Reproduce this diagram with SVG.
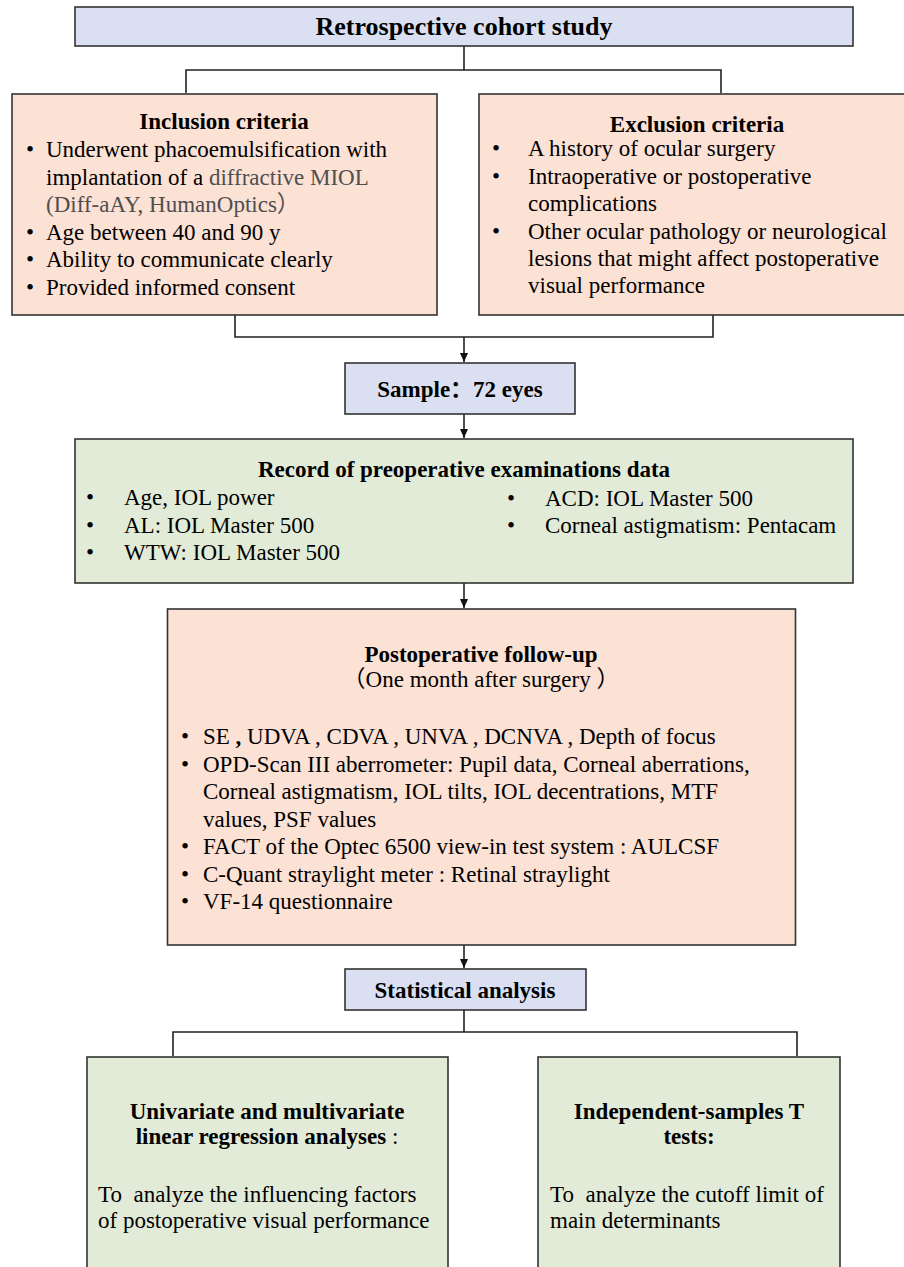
<svg xmlns="http://www.w3.org/2000/svg" width="904" height="1267" viewBox="0 0 904 1267">
<defs>
<style>
text{font-family:"Liberation Serif","Times New Roman","Noto Sans CJK SC",serif;font-size:23px;fill:#000}
.b{font-weight:bold}
.c{text-anchor:middle}
.g{fill:#4f4f4f}
.blue{fill:#DAE0F2;stroke:#333;stroke-width:1.6}
.pink{fill:#FCE1D5;stroke:#333;stroke-width:1.6}
.green{fill:#E2EBD8;stroke:#333;stroke-width:1.6}
.ln{fill:none;stroke:#222;stroke-width:1.6}
</style>
<marker id="ah" markerWidth="10" markerHeight="10" refX="9" refY="5" orient="auto" markerUnits="userSpaceOnUse">
<path d="M0,1 L9,5 L0,9 Z" fill="#111"/>
</marker>
</defs>

<g id="connectors">
<path class="ln" d="M464,46 V70 M186,93 V70 H721 V93"/>
<path class="ln" d="M235,315 V337 H713 V315"/>
<path class="ln" d="M464,337 V362" marker-end="url(#ah)"/>
<path class="ln" d="M464,414 V438" marker-end="url(#ah)"/>
<path class="ln" d="M464,583 V608" marker-end="url(#ah)"/>
<path class="ln" d="M464,945 V968" marker-end="url(#ah)"/>
<path class="ln" d="M464,1010 V1032 M173,1056 V1032 H797 V1056"/>
</g>

<g id="n-top">
<rect class="blue" x="75" y="7" width="778" height="39"/>
<text class="b c" x="464" y="35" style="font-size:26px">Retrospective cohort study</text>
</g>

<g id="n-inclusion">
<rect class="pink" x="12" y="94" width="425" height="221"/>
<text class="b c" x="224" y="129">Inclusion criteria</text>
<text x="26" y="157">•</text><text x="46" y="157">Underwent phacoemulsification with</text>
<text x="46" y="184.5">implantation of a <tspan class="g">diffractive MIOL</tspan></text>
<text x="46" y="212" class="g">(Diff-aAY, HumanOptics）</text>
<text x="26" y="239.5">•</text><text x="46" y="239.5">Age between 40 and 90 y</text>
<text x="26" y="267">•</text><text x="46" y="267">Ability to communicate clearly</text>
<text x="26" y="294.5">•</text><text x="46" y="294.5">Provided informed consent</text>
</g>

<g id="n-exclusion">
<rect class="pink" x="479" y="94" width="436" height="221"/>
<text class="b c" x="697" y="131.5">Exclusion criteria</text>
<text x="492" y="156">•</text><text x="528" y="156">A history of ocular surgery</text>
<text x="492" y="183.5">•</text><text x="528" y="183.5">Intraoperative or postoperative</text>
<text x="528" y="211">complications</text>
<text x="492" y="238.5">•</text><text x="528" y="238.5">Other ocular pathology or neurological</text>
<text x="528" y="266">lesions that might affect postoperative</text>
<text x="528" y="293">visual performance</text>
</g>

<g id="n-sample">
<rect class="blue" x="345" y="363" width="230" height="51"/>
<text class="b c" x="460" y="397">Sample：72 eyes</text>
</g>

<g id="n-record">
<rect class="green" x="75" y="439" width="778" height="144"/>
<text class="b c" x="464" y="477">Record of preoperative examinations data</text>
<text x="86" y="505">•</text><text x="124" y="505">Age, IOL power</text>
<text x="86" y="532.5">•</text><text x="124" y="532.5">AL: IOL Master 500</text>
<text x="86" y="560">•</text><text x="124" y="560">WTW: IOL Master 500</text>
<text x="507" y="506">•</text><text x="545" y="506">ACD: IOL Master 500</text>
<text x="507" y="533">•</text><text x="545" y="533">Corneal astigmatism: Pentacam</text>
</g>

<g id="n-postop">
<rect class="pink" x="167.5" y="609" width="628" height="336"/>
<text class="b c" x="481" y="662">Postoperative follow-up</text>
<text class="c" x="481" y="687">（One month after surgery ）</text>
<text x="181" y="744">•</text><text x="203" y="744">SE <tspan class="b">,</tspan> UDVA , CDVA , UNVA , DCNVA , Depth of focus</text>
<text x="181" y="771.5">•</text><text x="203" y="771.5">OPD-Scan III aberrometer: Pupil data, Corneal aberrations,</text>
<text x="203" y="799">Corneal astigmatism, IOL tilts, IOL decentrations, MTF</text>
<text x="203" y="826.5">values, PSF values</text>
<text x="181" y="854">•</text><text x="203" y="854">FACT of the Optec 6500 view-in test system : AULCSF</text>
<text x="181" y="881.5">•</text><text x="203" y="881.5">C-Quant straylight meter : Retinal straylight</text>
<text x="181" y="909">•</text><text x="203" y="909">VF-14 questionnaire</text>
</g>

<g id="n-stat">
<rect class="blue" x="345" y="969" width="241" height="41"/>
<text class="b c" x="465" y="998">Statistical analysis</text>
</g>

<g id="n-regression">
<rect class="green" x="87" y="1057" width="361" height="230"/>
<text class="b c" x="267" y="1118.5">Univariate and multivariate</text>
<text class="b c" x="267" y="1144">linear regression analyses <tspan style="font-weight:normal">:</tspan></text>
<text x="98" y="1202" xml:space="preserve">To  analyze the influencing factors</text>
<text x="98" y="1228">of postoperative visual performance</text>
</g>

<g id="n-ttest">
<rect class="green" x="538" y="1057" width="302" height="230"/>
<text class="b c" x="689" y="1118.5">Independent-samples T</text>
<text class="b c" x="689" y="1144">tests:</text>
<text x="550" y="1202" xml:space="preserve">To  analyze the cutoff limit of</text>
<text x="550" y="1228">main determinants</text>
</g>
</svg>
